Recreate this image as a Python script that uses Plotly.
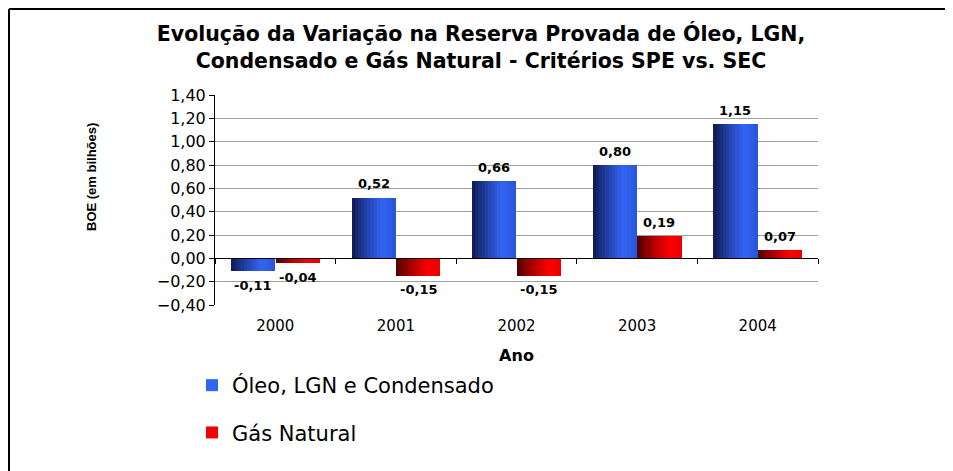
import numpy as np
import plotly.graph_objects as go

# ---------------- data ----------------
anos = ["2000", "2001", "2002", "2003", "2004"]
oleo_lgn = [-0.11, 0.52, 0.66, 0.80, 1.15]
gas_natural = [-0.04, -0.15, -0.15, 0.19, 0.07]
nome_oleo = "Óleo, LGN e Condensado"
nome_gas = "Gás Natural"
titulo = ("Evolução da Variação na Reserva Provada de Óleo, LGN,<br>"
          "Condensado e Gás Natural - Critérios SPE vs. SEC")
titulo_y = "BOE (em bilhões)"
titulo_x = "Ano"
y_ticks = [-0.4, -0.2, 0.0, 0.2, 0.4, 0.6, 0.8, 1.0, 1.2, 1.4]

# ---------------- layout constants ----------------
# the page body adds an 8px offset, so the figure is drawn in a (W-8)x(H-8) box
OFF = 8
W, H = 953 - OFF, 471 - OFF
PLOT_L, PLOT_T, PW, PH = 215 - OFF, 95 - OFF, 603, 210
ML, MT = PLOT_L, PLOT_T
MR, MB = W - ML - PW, H - MT - PH
YMIN, YMAX = -0.4, 1.4
FONT = "Liberation Sans, Arial, sans-serif"
FONT_W = "DejaVu Sans, Arial, sans-serif"

x = np.arange(len(anos))
BW = 0.365      # bar width (category units)
GAP = 0.005
N = 14          # gradient slices


def lerp(c1, c2, t):
    return "rgb(%d,%d,%d)" % tuple(int(round(a + (b - a) * t)) for a, b in zip(c1, c2))


def blue_grad(t):
    if t < 0.7:
        return lerp((12, 22, 70), (50, 100, 245), (t / 0.7) ** 0.8)
    return lerp((50, 100, 245), (40, 85, 215), (t - 0.7) / 0.3)


def red_grad(t):
    if t < 0.72:
        return lerp((70, 0, 0), (250, 0, 0), (t / 0.72) ** 0.8)
    return lerp((250, 0, 0), (235, 0, 0), (t - 0.72) / 0.28)


fig = go.Figure()


def add_series(vals, base_off, grad, name, legend_color, group):
    sw = BW / N
    for i in range(N):
        t = (i + 0.5) / N
        fig.add_trace(go.Bar(
            x=x, y=vals, width=sw * 1.08, offset=base_off + i * sw,
            marker=dict(color=grad(t), line=dict(width=0)),
            showlegend=False, legendgroup=group, hoverinfo="skip",
        ))
    fig.add_trace(go.Bar(
        x=[None], y=[None], name=name, legendgroup=group,
        marker=dict(color=legend_color, line=dict(width=0)), showlegend=True,
    ))


add_series(oleo_lgn, -BW - GAP / 2, blue_grad, nome_oleo, "rgb(50,100,245)", "oleo")
add_series(gas_natural, GAP / 2, red_grad, nome_gas, "rgb(240,0,0)", "gas")


def fmt(v):
    return ("%.2f" % v).replace(".", ",")


annotations = []


def add_labels(vals, xc):
    for xi, v in zip(xc, vals):
        annotations.append(dict(
            x=xi, y=v, xref="x", yref="y", text=fmt(v), showarrow=False,
            yshift=14 if v >= 0 else -14, xanchor="center", yanchor="middle",
            font=dict(family=FONT_W, size=13, color="black", weight="bold"),
        ))


add_labels(oleo_lgn, x - BW / 2 - GAP / 2)
add_labels(gas_natural, x + BW / 2 + GAP / 2)

# y-axis title (screen position ~ (91, 177))
annotations.append(dict(
    x=(91 - OFF - ML) / PW, y=(MT + PH - (177 - OFF)) / PH, xref="paper", yref="paper",
    text=titulo_y, showarrow=False, textangle=-90, xanchor="center", yanchor="middle",
    font=dict(family=FONT, size=13, color="black", weight="bold"),
))

# invisible trace to attach the zero-line axis
fig.add_trace(go.Scatter(x=[None], y=[None], xaxis="x2", showlegend=False, hoverinfo="skip"))

zero_pos = (0 - YMIN) / (YMAX - YMIN)

# border (top and left) in paper coords, at figure pixel (1,1)
bx0 = (1 - ML) / PW
bx1 = (W - ML) / PW
by0 = (PH + MT - 1) / PH
by1 = (PH + MT - H) / PH

fig.update_layout(
    width=W, height=H,
    margin=dict(l=ML, r=MR, t=MT, b=MB, autoexpand=False),
    paper_bgcolor="white", plot_bgcolor="white",
    barmode="overlay", bargap=0,
    separators=",.",
    font=dict(family=FONT, color="black"),
    title=dict(
        text=titulo, x=(481 - OFF) / W, xanchor="center", y=1 - 33 / H, yanchor="top",
        font=dict(family=FONT_W, size=20.5, color="black", weight="bold"),
    ),
    xaxis=dict(
        range=[-0.5, len(anos) - 0.5], tickvals=x, ticktext=anos,
        showgrid=False, zeroline=False, showline=False, ticks="",
        tickfont=dict(family=FONT_W, size=15), ticklabelstandoff=10, automargin=False,
        title=dict(text=titulo_x, font=dict(family=FONT_W, size=16, weight="bold"), standoff=15),
    ),
    xaxis2=dict(
        overlaying="x", anchor="free", position=zero_pos, side="bottom",
        range=[-0.5, len(anos) - 0.5], tickvals=list(np.arange(len(anos) + 1) - 0.5),
        showticklabels=False, ticks="outside", ticklen=5, tickcolor="black",
        showline=True, linecolor="black", linewidth=1, showgrid=False, zeroline=False,
        automargin=False,
    ),
    yaxis=dict(
        range=[YMIN, YMAX], tickvals=y_ticks, tickformat=".2f",
        showgrid=True, gridcolor="#a0a0a0", gridwidth=1, zeroline=False,
        showline=True, linecolor="black", linewidth=1,
        ticks="outside", ticklen=5, tickcolor="black",
        tickfont=dict(family=FONT_W, size=16), automargin=False,
    ),
    legend=dict(
        xref="container", yref="container",
        x=(192 - OFF) / W, y=1 - (365 - OFF) / H, xanchor="left", yanchor="top",
        font=dict(family=FONT_W, size=21, color="black"),
        tracegroupgap=17, bgcolor="rgba(0,0,0,0)",
    ),
    annotations=annotations,
    shapes=[
        dict(type="line", xref="paper", yref="paper", x0=bx0, x1=bx1, y0=by0, y1=by0,
             line=dict(color="black", width=2)),
        dict(type="line", xref="paper", yref="paper", x0=bx0, x1=bx0, y0=by0, y1=by1,
             line=dict(color="black", width=2)),
    ],
)

fig.write_html("out.html")
